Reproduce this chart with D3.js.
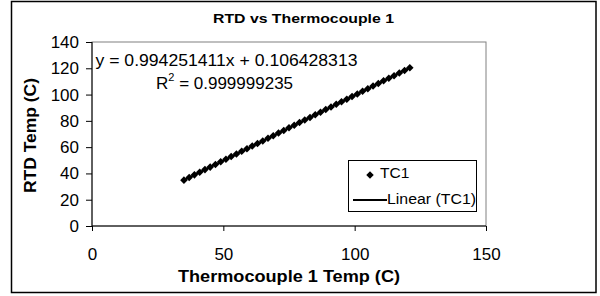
<!DOCTYPE html>
<html><head><meta charset="utf-8">
<script src="https://cdn.jsdelivr.net/npm/d3@7"></script>
<style>body{margin:0;background:#fff}svg{display:block;font-family:"Liberation Sans",Arial,sans-serif}</style>
</head><body><svg id="c" width="600" height="296"></svg>
<script>
const tcTemps = [35,37,39,41,43,45,47,49,51,53,55,57,59,61,63,65,67,69,71,73,75,77,79,81,83,85,87,89,91,93,95,97,99,101,103,105,107,109,111,113,115,117,119,121];
const rtdTemps = [34.9,36.9,38.9,40.9,42.9,44.8,46.8,48.8,50.8,52.8,54.8,56.8,58.8,60.8,62.7,64.7,66.7,68.7,70.7,72.7,74.7,76.7,78.7,80.6,82.6,84.6,86.6,88.6,90.6,92.6,94.6,96.5,98.5,100.5,102.5,104.5,106.5,108.5,110.5,112.5,114.4,116.4,118.4,120.4];
const xTicks = [0,50,100,150];
const yTicks = [0,20,40,60,80,100,120,140];
const slope = 0.994251411, intercept = 0.106428313;
const chartTitle = "RTD vs Thermocouple 1";
const xTitle = "Thermocouple 1 Temp (C)";
const yTitle = "RTD Temp (C)";
const eqText = "y = 0.994251411x + 0.106428313";
const r2Value = "0.999999235";
const legendLabels = ["TC1","Linear (TC1)"];

const svg = d3.select("#c");
const L=92, R=486, T=42, B=226;
const x = d3.scaleLinear().domain([0,150]).range([L,R]);
const y = d3.scaleLinear().domain([0,140]).range([B,T]);

svg.append("rect").attr("x",11.5).attr("y",1.5).attr("width",584.5).attr("height",291)
  .attr("fill","#fff").attr("stroke","#000").attr("stroke-width",1.5);

svg.append("rect").attr("x",L).attr("y",T).attr("width",R-L).attr("height",B-T)
  .attr("fill","#fff").attr("stroke","#808080").attr("stroke-width",1);

svg.append("text").attr("x",303.5).attr("y",23).attr("text-anchor","middle")
  .attr("font-size",13).attr("font-weight","bold")
  .attr("textLength",181).attr("lengthAdjust","spacingAndGlyphs").text(chartTitle);

const yAxis = svg.append("g").attr("transform",`translate(${L},0)`)
  .call(d3.axisLeft(y).tickValues(yTicks).tickSize(6).tickPadding(7).tickFormat(d3.format("d")));
yAxis.select(".domain").attr("stroke","#000").attr("d",`M0,${T}V${B}`);
yAxis.selectAll("text").attr("font-size",17).attr("font-family","Liberation Sans, Arial, sans-serif").attr("fill","#000");

const xAxis = svg.append("g").attr("transform",`translate(0,${B})`)
  .call(d3.axisBottom(x).tickValues(xTicks).tickSize(5).tickPadding(17).tickFormat(d3.format("d")));
xAxis.select(".domain").attr("stroke","#000").attr("d",`M${L},0H${R}`);
xAxis.selectAll("text").attr("font-size",17).attr("font-family","Liberation Sans, Arial, sans-serif").attr("fill","#000");

svg.append("text").attr("x",289).attr("y",282).attr("text-anchor","middle")
  .attr("font-size",16).attr("font-weight","bold")
  .attr("textLength",222).attr("lengthAdjust","spacingAndGlyphs").text(xTitle);
svg.append("text").attr("transform","translate(36,135.5) rotate(-90)").attr("text-anchor","middle")
  .attr("font-size",16).attr("font-weight","bold")
  .attr("textLength",115).attr("lengthAdjust","spacingAndGlyphs").text(yTitle);

// trendline
const xs = d3.extent(tcTemps);
svg.append("line").attr("x1",x(xs[0])).attr("y1",y(slope*xs[0]+intercept))
  .attr("x2",x(xs[1])).attr("y2",y(slope*xs[1]+intercept)).attr("stroke","#000").attr("stroke-width",2);

const diamond = d3.symbol().type(d3.symbolDiamond2).size(36);
svg.append("g").selectAll("path").data(tcTemps).join("path")
  .attr("d",diamond).attr("transform",(d,i)=>`translate(${x(d)},${y(rtdTemps[i])})`).attr("fill","#000");

svg.append("text").attr("x",95.5).attr("y",66).attr("font-size",17)
  .attr("textLength",262).attr("lengthAdjust","spacingAndGlyphs").text(eqText);
const r2 = svg.append("text").attr("x",156).attr("y",89).attr("font-size",17);
r2.append("tspan").text("R");
r2.append("tspan").attr("dy",-8).attr("font-size",11).text("2");
r2.append("tspan").attr("dy",8).text(" = " + r2Value);

// legend
const lg = svg.append("g");
lg.append("rect").attr("x",348.5).attr("y",160.5).attr("width",128).attr("height",51)
  .attr("fill","#fff").attr("stroke","#000").attr("stroke-width",1);
lg.append("path").attr("d",diamond).attr("transform","translate(370,175)").attr("fill","#000");
lg.append("text").attr("x",380).attr("y",178).attr("font-size",15.5).text(legendLabels[0]);
lg.append("line").attr("x1",353).attr("x2",387).attr("y1",200).attr("y2",200).attr("stroke","#000").attr("stroke-width",2);
lg.append("text").attr("x",387).attr("y",204).attr("font-size",15.5)
  .attr("textLength",89).attr("lengthAdjust","spacingAndGlyphs").text(legendLabels[1]);
</script></body></html>
